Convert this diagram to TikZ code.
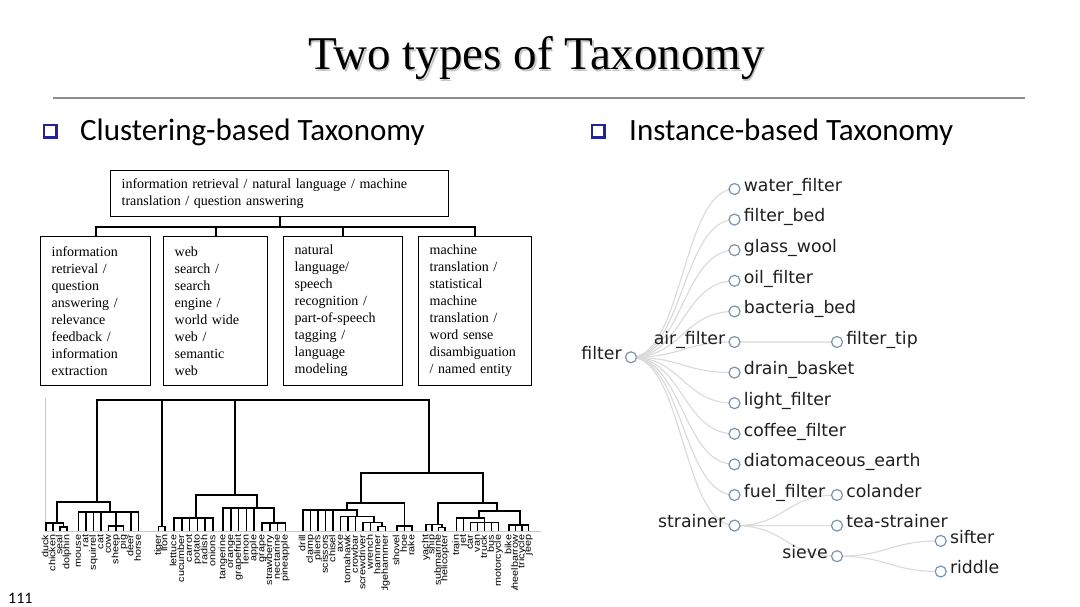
\documentclass[tikz,border=0pt]{standalone}
\usepackage{fontspec}
\setmainfont{Liberation Serif}
\newfontfamily\calibrifont{Carlito}
\newfontfamily\verdfont{DejaVu Sans}
\newfontfamily\helvfont{Liberation Sans}
\usetikzlibrary{calc}
\definecolor{bulletblue}{RGB}{35,35,150}
\definecolor{steel}{RGB}{125,148,172}
\definecolor{linkgray}{RGB}{218,218,218}
\definecolor{axisgray}{RGB}{200,200,200}
\pgfdeclarelayer{back}
\pgfdeclarelayer{mid}
\pgfsetlayers{back,mid,main}
\newcommand\leafstems[2]{\foreach \lx in {#2} \draw[dend] (\lx,#1) -- (\lx,530);}
\begin{document}
\begin{tikzpicture}[x=1pt,y=-1pt,
  dend/.style={line width=1.7pt, black, line cap=rect},
  leaflab/.style={rotate=90, anchor=mid east, inner sep=0pt, font=\helvfont\fontsize{10.8}{10.8}\selectfont},
  lbox/.style={draw, line width=1.3pt, anchor=north west, align=left, inner xsep=11pt, inner ysep=0pt, minimum height=149pt, font=\fontsize{14}{17}\selectfont},
  tbox/.style={draw, line width=1.3pt, anchor=north west, align=left, inner xsep=11pt, inner ysep=0pt, minimum height=46pt, font=\fontsize{14}{16.5}\selectfont},
  conn/.style={line width=2pt, black, line cap=rect},
  tnode/.style={circle, draw=steel, fill=white, line width=1.2pt, minimum size=11pt, inner sep=0pt},
  tlab/.style={font=\verdfont\fontsize{17.3}{20}\selectfont, inner sep=0pt, text=black!88},
  tedge/.style={draw=linkgray, line width=1.1pt},
  subtitle/.style={anchor=base west, inner sep=0pt, font=\calibrifont\fontsize{31}{36}\selectfont},
  titlefont/.style={anchor=base, inner sep=0pt, font=\fontsize{47}{52}\selectfont}
]
\useasboundingbox (0,0) rectangle (1080,607);
\begin{pgfonlayer}{back}
\fill[white] (0,0) rectangle (1080,607);
\end{pgfonlayer}

% title
\node[titlefont, text=black!22] (titleshadow) at (538,71.8) {Two types of Taxonomy};
\node[titlefont] (title) at (536.5,70) {Two types of Taxonomy};
\draw[black!45, line width=1.3pt] (53,98) -- (1025,98);

% bullets and subtitles
\fill[bulletblue] (43,124) rectangle (58,139);
\fill[white] (45,126) rectangle (55,136);
\fill[bulletblue] (591,124) rectangle (606,139);
\fill[white] (593,126) rectangle (603,136);
\node[subtitle] (sub1) at (80,141) {Clustering-based Taxonomy};
\node[subtitle] (sub2) at (629,141) {Instance-based Taxonomy};

% page number
\node[anchor=base west, inner sep=0pt, font=\calibrifont\fontsize{16}{18}\selectfont] (pagenum) at (8,603) {111};

% ---------- left: cluster boxes ----------
\node[tbox, text width=316pt] (top) at (110,170) {information retrieval / natural language / machine\\translation / question answering};
\node[lbox, text width=88pt] (b1) at (40,236) {information\\retrieval /\\question\\answering /\\relevance\\feedback /\\information\\extraction};
\node[lbox, text width=82pt] (b2) at (163,236) {web\\search /\\search\\engine /\\world wide\\web /\\semantic\\web};
\node[lbox, text width=97pt] (b3) at (283,236) {natural\\language/\\speech\\recognition /\\part-of-speech\\tagging /\\language\\modeling};
\node[lbox, text width=91pt] (b4) at (418,236) {machine\\translation /\\statistical\\machine\\translation /\\word sense\\disambiguation\\/ named entity};
\coordinate (bus) at (0,227.5);
\draw[conn] (top.south) -- (top.south |- bus);
\draw[conn] (b1.north) -- (b1.north |- bus) -- (b4.north |- bus) -- (b4.north);
\draw[conn] (b2.north) -- (b2.north |- bus);
\draw[conn] (b3.north) -- (b3.north |- bus);

% ---------- left: dendrogram ----------
\draw[axisgray, line width=1pt] (45,398) -- (45,531.5) -- (541,531.5);
% root
\draw[dend] (96.7,400) -- (429.3,400);
\draw[dend] (96.7,400) -- (96.7,501.7);
\draw[dend] (162,400) -- (162,526.5);
\draw[dend] (235,400) -- (235,495);
\draw[dend] (429.3,400) -- (429.3,473.3);
% animals
\draw[dend] (57.3,501.7) -- (110,501.7);
\draw[dend] (57.3,501.7) -- (57.3,523);
\draw[dend] (110,501.7) -- (110,511.7);
\draw[dend] (46,523) -- (63.5,523);
\leafstems{523}{46,53}
\draw[dend] (63.5,523) -- (63.5,527);
\draw[dend] (60,527) -- (67,527);
\leafstems{527}{60,67}
\draw[dend] (78.5,511.7) -- (138.5,511.7);
\leafstems{511.7}{78.5,86,93.5,101,131,138.5}
\draw[dend] (116,511.7) -- (116,526);
\draw[dend] (108.5,526) -- (123.5,526);
\leafstems{526}{108.5,116,123.5}
% tiger lion
\draw[dend] (158.5,526.5) -- (165,526.5);
\leafstems{526.5}{158.5,165}
% plants
\draw[dend] (195.7,495) -- (256.7,495);
\draw[dend] (195.7,495) -- (195.7,518.3);
\draw[dend] (256.7,495) -- (256.7,508.3);
\draw[dend] (174,518.3) -- (213,518.3);
\leafstems{518.3}{174,181.8,189.6,197.4,205.2,213}
\draw[dend] (223,508.3) -- (273.7,508.3);
\leafstems{508.3}{223,230.8,238.6,246.4,254.2}
\draw[dend] (273.7,508.3) -- (273.7,522.7);
\draw[dend] (262,522.7) -- (285.4,522.7);
\leafstems{522.7}{262,269.8,277.6,285.4}
% artifacts
\draw[dend] (361,473.3) -- (483.3,473.3);
\draw[dend] (361,473.3) -- (361,503.3);
\draw[dend] (483.3,473.3) -- (483.3,503.3);
\draw[dend] (346.7,503.3) -- (404.5,503.3);
\draw[dend] (346.7,503.3) -- (346.7,510);
\draw[dend] (404.5,503.3) -- (404.5,526);
\draw[dend] (303,510) -- (357,510);
\leafstems{510}{303,310.5,318,325.5,333}
\draw[dend] (357,510) -- (357,516.5);
\draw[dend] (340.5,516.5) -- (374,516.5);
\leafstems{516.5}{340.5,348,355.5}
\draw[dend] (374,516.5) -- (374,522.5);
\draw[dend] (363,522.5) -- (381.75,522.5);
\leafstems{522.5}{363,370.5}
\draw[dend] (381.75,522.5) -- (381.75,526.5);
\draw[dend] (378,526.5) -- (385.5,526.5);
\leafstems{526.5}{378,385.5}
\draw[dend] (397,526) -- (412,526);
\leafstems{526}{397,404.5,412}
% vehicles
\draw[dend] (437.7,503.3) -- (496.7,503.3);
\draw[dend] (437.7,503.3) -- (437.7,524.5);
\draw[dend] (496.7,503.3) -- (496.7,510.7);
\draw[dend] (426,524.5) -- (441.75,524.5);
\leafstems{524.5}{426,432}
\draw[dend] (441.75,524.5) -- (441.75,527.5);
\draw[dend] (438.5,527.5) -- (445,527.5);
\leafstems{527.5}{438.5,445}
\draw[dend] (479.3,510.7) -- (520,510.7);
\draw[dend] (479.3,510.7) -- (479.3,518.3);
\draw[dend] (520,510.7) -- (520,525);
\draw[dend] (456.5,518.3) -- (484.5,518.3);
\leafstems{518.3}{456.5,463.5}
\draw[dend] (484.5,518.3) -- (484.5,522.5);
\draw[dend] (470.5,522.5) -- (498.5,522.5);
\leafstems{522.5}{470.5,477.5,484.5,491.5,498.5}
\draw[dend] (509,525) -- (528.5,525);
\leafstems{525}{509,515.5,522,528.5}

% leaf labels
\begin{scope}
\clip (30,532.5) rectangle (545,589);
\foreach \n/\x in {duck/46,chicken/53,seal/60,dolphin/67,mouse/78.5,rat/86,squirrel/93.5,cat/101,cow/108.5,sheep/116,pig/123.5,deer/131,horse/138.5,tiger/158.5,lion/165,lettuce/174,cucumber/181.8,carrot/189.6,potato/197.4,radish/205.2,onions/213,tangerine/223,orange/230.8,grapefruit/238.6,lemon/246.4,apple/254.2,grape/262,strawberry/269.8,nectarine/277.6,pineapple/285.4,drill/303,clamp/310.5,pliers/318,scissors/325.5,chisel/333,axe/340.5,tomahawk/348,crowbar/355.5,screwdriver/363,wrench/370.5,hammer/378,sledgehammer/385.5,shovel/397,hoe/404.5,rake/412,yacht/426,ship/432,submarine/438.5,helicopter/445,train/456.5,jet/463.5,car/470.5,van/477.5,truck/484.5,bus/491.5,motorcycle/498.5,bike/509,wheelbarrow/515.5,tricycle/522,jeep/528.5}
  \node[leaflab] (lab-\n) at (\x,534.5) {\scalebox{1}[0.85]{\n}};
\end{scope}

% ---------- right: instance tree ----------
\node[tnode] (nfilter) at (631,357.3) {};
\foreach \nm/\k in {nwater/0,nfbed/1,nglass/2,noil/3,nbact/4,nair/5,ndrain/6,nlight/7,ncoffee/8,ndiat/9,nfuel/10,nstrainer/11}
  \node[tnode] (\nm) at (734.5,{189+30.6*\k}) {};
\node[tnode] (ntip) at (837,342) {};
\node[tnode] (ncolander) at (837,495) {};
\node[tnode] (ntea) at (837,525.6) {};
\node[tnode] (nsieve) at (837,556.2) {};
\node[tnode] (nsifter) at (940.7,540.9) {};
\node[tnode] (nriddle) at (940.7,571.5) {};

\begin{pgfonlayer}{mid}
\foreach \ch in {nwater,nfbed,nglass,noil,nbact,nair,ndrain,nlight,ncoffee,ndiat,nfuel,nstrainer}
  \draw[tedge] let \p1=(nfilter.center), \p2=(\ch.center), \n1={(\x1+\x2)/2} in (\p1) .. controls (\n1,\y1) and (\n1,\y2) .. (\p2);
\foreach \pa/\ch in {nair/ntip,nstrainer/ncolander,nstrainer/ntea,nstrainer/nsieve,nsieve/nsifter,nsieve/nriddle}
  \draw[tedge] let \p1=(\pa.center), \p2=(\ch.center), \n1={(\x1+\x2)/2} in (\p1) .. controls (\n1,\y1) and (\n1,\y2) .. (\p2);
\end{pgfonlayer}

\node[tlab, anchor=mid east] (lfilter) at ([xshift=-3pt]nfilter.west) {filter};
\node[tlab, anchor=mid east] (lair) at ([xshift=-3pt]nair.west) {air\_filter};
\node[tlab, anchor=mid east] (lstrainer) at ([xshift=-3pt]nstrainer.west) {strainer};
\node[tlab, anchor=mid east] (lsieve) at ([xshift=-3pt]nsieve.west) {sieve};
\foreach \nm/\t in {nwater/water\_filter,nfbed/filter\_bed,nglass/glass\_wool,noil/oil\_filter,nbact/bacteria\_bed,ndrain/drain\_basket,nlight/light\_filter,ncoffee/coffee\_filter,ndiat/diatomaceous\_earth,nfuel/fuel\_filter,ntip/filter\_tip,ncolander/colander,ntea/tea-strainer,nsifter/sifter,nriddle/riddle}
  \node[tlab, anchor=mid west] (l\nm) at ([xshift=3pt]\nm.east) {\t};
\end{tikzpicture}
\end{document}
